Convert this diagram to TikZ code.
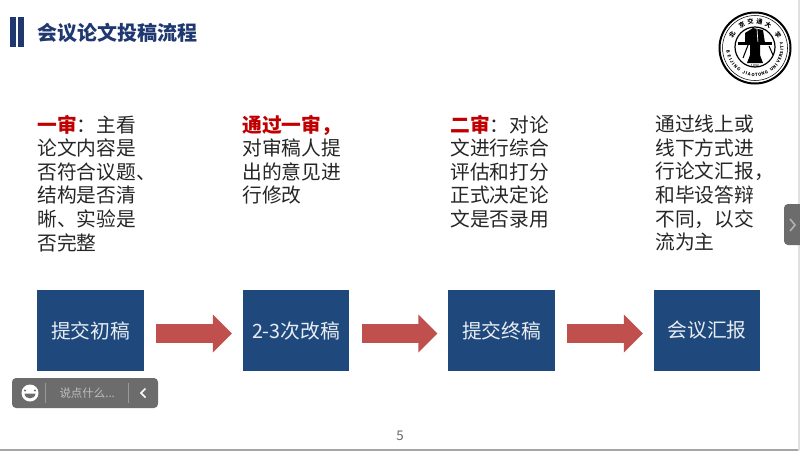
\documentclass[tikz,border=0pt]{standalone}
\usepackage{fontspec}
\setmainfont{Noto Sans CJK SC}
\usetikzlibrary{arrows.meta,calc}
\usetikzlibrary{positioning}
\definecolor{slidenavy}{RGB}{31,56,112}
\definecolor{boxblue}{RGB}{31,73,125}
\definecolor{arrowred}{RGB}{192,80,77}
\definecolor{headred}{RGB}{192,0,0}
\definecolor{bodygrey}{RGB}{38,38,38}
\definecolor{overlaygrey}{RGB}{108,108,108}
\tikzset{every picture/.style={line width=0.75pt}}
\tikzset{
  stepbox/.style={fill=boxblue,text=white!90!boxblue,minimum width=80pt,minimum height=60.5pt,inner sep=0pt,font=\fontsize{14.8pt}{17.7pt}\selectfont},
  notetext/.style={anchor=north west,inner sep=0pt,text=bodygrey,text width=98pt,align=left,font=\fontsize{14.8pt}{17.7pt}\selectfont},
  blockarrow/.style={draw=arrowred,line width=14.25pt,-{Triangle[length=14.25pt,width=27.75pt]},shorten <=9pt,shorten >=7.75pt},
  sealglyph/.style={inner sep=0pt,font=\fontsize{4.6pt}{5pt}\selectfont\bfseries},
  sealletter/.style={inner sep=0pt,font=\fontsize{3.2pt}{4pt}\selectfont\bfseries}
}

\begin{document}
\begin{tikzpicture}[x=0.75pt,y=0.75pt,yscale=-1,xscale=1]
\useasboundingbox (0,0) rectangle (800,451);
\fill[white] (0,0) rectangle (800,451);
%page edges
\fill[black!35] (0,449) rectangle (800,451);
\fill[black!12] (798,0) rectangle (800,451);

%title bars
\fill[slidenavy] (9.5,17) rectangle (15.5,47);
\fill[slidenavy] (17.5,17) rectangle (24,47);
% Text Node
\node[anchor=west,inner sep=0pt,text=slidenavy,font=\fontsize{15pt}{15pt}\selectfont\bfseries] (title) at (36.5,33) {会议论文投稿流程};

%seal
\draw[line width=1.5pt] (755,48) circle (35.5);
\draw[line width=0.4pt] (755,48) circle (32.5);
\draw[line width=0.9pt] (755,47) circle (20);
\foreach \glyph/\ang in {北/-150,京/-120,交/-100,通/-80,大/-60,学/-30}
  \node[sealglyph,rotate={-(\ang+90)}] at ($(755,48)+(\ang:26.5)$) {\glyph};
\foreach \letter/\ang in {B/172,E/163,I/155,J/149,I/143,N/136,G/127,J/114,I/108,A/102,O/94,T/87,O/80,N/73,G/65,U/52,N/44,I/38,V/31,E/24,R/17,S/10,I/4,T/-2,Y/-10}
  \node[sealletter,rotate={90-\ang}] at ($(755,48)+(\ang:27)$) {\letter};
\fill (745,33) -- (753,28) -- (763,30) -- (765,43) -- (745,43) -- cycle;
\draw[white,line width=0.5pt] (757,29) -- (758,43);
\fill (738,42) -- (772,42) -- (772,45) -- (738,45) -- cycle;
\fill (750,45) -- (760,45) -- (760,55) -- (763,63) -- (747,63) -- (750,55) -- cycle;
\draw[line width=0.8pt] (750,40) -- (743,58);
\draw[line width=0.8pt] (769,46) -- (773,55);
\node[inner sep=0pt,font=\fontsize{3pt}{3pt}\selectfont] (sealyear) at (755,66.5) {1896};

% Text Node
\node[notetext] (note1) at (37,114.5) {{\bfseries\color{headred}一审}：主看\\论文内容是\\否符合议题、\\结构是否清\\晰、实验是\\否完整};
% Text Node
\node[notetext] (note2) at (242,114.5) {{\bfseries\color{headred}通过一审，}\\对审稿人提\\出的意见进\\行修改};
% Text Node
\node[notetext] (note3) at (450,114.5) {{\bfseries\color{headred}二审}：对论\\文进行综合\\评估和打分\\正式决定论\\文是否录用};
% Text Node
\node[notetext] (note4) at (655,114.5) {通过线上或\\线下方式进\\行论文汇报，\\和毕设答辩\\不同，以交\\流为主};

%process boxes
\node[stepbox] (box1) at (90.5,330.5) {提交初稿};
\node[stepbox] (box2) at (296,330.5) {2-3次改稿};
\node[stepbox] (box3) at (501.5,330.5) {提交终稿};
\node[stepbox] (box4) at (707,330.5) {会议汇报};

%arrows
\draw[blockarrow] ([yshift=2.25pt]box1.east) -- ([yshift=2.25pt]box2.west);
\draw[blockarrow] ([yshift=2.25pt]box2.east) -- ([yshift=2.25pt]box3.west);
\draw[blockarrow] ([yshift=2.25pt]box3.east) -- ([yshift=2.25pt]box4.west);

%chat bar
\fill[overlaygrey,rounded corners=3pt] (12,378) rectangle (158,408);
\fill[white] (30,393) circle (8.5);
\fill[overlaygrey] (25,390.5) circle (1.2);
\fill[overlaygrey] (35,390.5) circle (1.2);
\fill[overlaygrey] (24.5,393.5) .. controls (25,400) and (35,400) .. (35.5,393.5) -- cycle;
\draw[black!40,line width=0.6pt] (45,383) -- (45,403);
\draw[black!40,line width=0.6pt] (128,383) -- (128,403);
% Text Node
\node[anchor=west,inner sep=0pt,text=black!25,font=\fontsize{8.6pt}{9pt}\selectfont] (chat) at (59,393) {说点什么...};
\draw[white,line width=1.2pt] (145.5,388.5) -- (141,393) -- (145.5,397.5);

%side tab
\fill[overlaygrey,rounded corners=3pt] (784,204) rectangle (804,245);
\draw[black!30,line width=1.2pt] (790,219) -- (795,225) -- (790,231);

% Text Node
\node[inner sep=0pt,text=black!60,font=\fontsize{10pt}{10pt}\selectfont] (pagenum) at (400,436) {5};
\end{tikzpicture}
\end{document}
